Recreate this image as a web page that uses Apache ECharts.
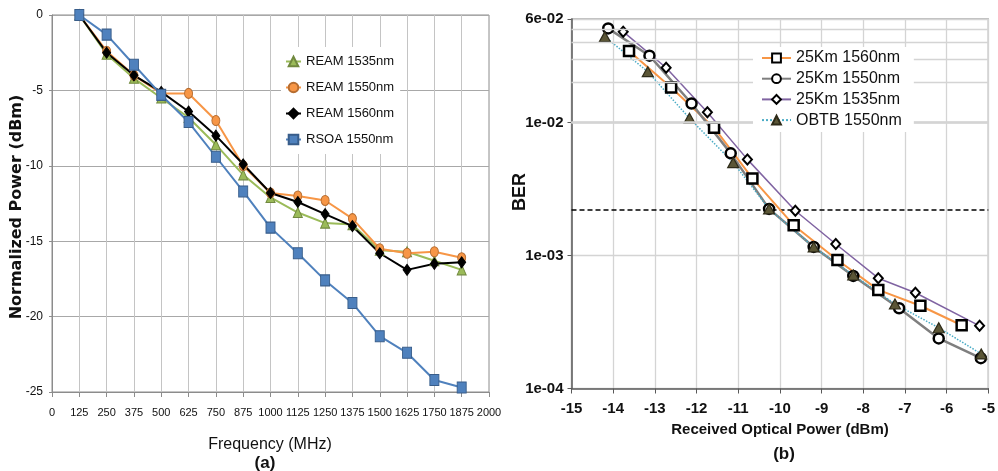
<!DOCTYPE html>
<html><head><meta charset="utf-8">
<script src="https://cdn.jsdelivr.net/npm/echarts@6/dist/echarts.min.js"></script>
<style>html,body{margin:0;padding:0;background:#fff}#c{width:998px;height:471px}</style>
</head><body><div id="c"></div>
<script>
// ---- Chart (a) data ----
const freqs = [125,250,375,500,625,750,875,1000,1125,1250,1375,1500,1625,1750,1875];
const ream1535 = [0,-2.6,-4.2,-5.5,-6.8,-8.6,-10.6,-12.1,-13.1,-13.8,-13.9,-15.6,-15.7,-16.3,-16.9];
const ream1550 = [0,-2.4,-4.0,-5.2,-5.2,-7.0,-10.0,-11.8,-12.0,-12.3,-13.5,-15.5,-15.8,-15.7,-16.1];
const ream1560 = [0,-2.5,-4.0,-5.1,-6.4,-8.0,-9.9,-11.8,-12.4,-13.2,-14.0,-15.8,-16.9,-16.5,-16.4];
const rsoa1550 = [0,-1.3,-3.3,-5.3,-7.1,-9.4,-11.7,-14.1,-15.8,-17.6,-19.1,-21.3,-22.4,-24.2,-24.7];
const namesA = ['REAM 1535nm','REAM 1550nm','REAM 1560nm','RSOA 1550nm'];

// ---- Chart (b) data ----
const sq1560X = [-13.62,-12.61,-11.58,-10.66,-9.67,-8.62,-7.64,-6.63,-5.64];
const sq1560Y = [0.0345,0.0183,0.00914,0.0038,0.00169,0.000925,0.000551,0.000419,0.000299];
const ci1550X = [-14.12,-13.13,-12.12,-11.18,-10.26,-9.19,-8.24,-7.14,-6.19,-5.18];
const ci1550Y = [0.0510,0.0318,0.0139,0.00586,0.00224,0.00116,0.000702,0.000401,0.000238,0.000169];
const di1535X = [-13.76,-12.73,-11.74,-10.78,-9.63,-8.66,-7.64,-6.75,-5.21];
const di1535Y = [0.0482,0.0258,0.01194,0.00528,0.00217,0.00122,0.000675,0.000525,0.000296];
const obtbX = [-14.20,-13.17,-12.17,-11.12,-10.26,-9.19,-8.24,-7.24,-6.19,-5.17];
const obtbY = [0.0442,0.0241,0.01076,0.00499,0.00224,0.00116,0.000713,0.000432,0.000286,0.000182];
const namesB = ['25Km 1560nm','25Km 1550nm','25Km 1535nm','OBTB 1550nm'];
const powerRange = [-15, -5];
const fecLimit = 0.0022;
const minorBER = [2e-4,3e-4,4e-4,5e-4,6e-4,7e-4,8e-4,9e-4,2e-3,3e-3,4e-3,5e-3,6e-3,7e-3,8e-3,9e-3,2e-2,3e-2,4e-2,5e-2];

const ARIAL = "'Liberation Sans',Arial,sans-serif";

const pairs = (xs, ys) => xs.map((x, i) => [x, ys[i]]);
const pairsA = ys => freqs.map((f, i) => [f, ys[i]]);
const fmtExp = v => Number(v).toExponential(0).replace(/e([+-])(\d)$/, 'e$10$2');

const chart = echarts.init(document.getElementById('c'));
chart.setOption({
  animation: false,
  backgroundColor: '#fff',
  grid: [
    {left: 52, top: 15, width: 437, height: 377, show: true, borderColor: '#8c8c8c', borderWidth: 1, backgroundColor: 'transparent'},
    {left: 571.5, top: 19, width: 419.2, height: 369.5, show: true, borderColor: '#7f7f7f', borderWidth: 1.2, backgroundColor: 'transparent'}
  ],
  xAxis: [
    {type: 'value', gridIndex: 0, min: 0, max: 2000, interval: 125,
     axisLine: {show: true, onZero: false, lineStyle: {color: '#8c8c8c', width: 1}},
     axisTick: {show: true, length: 5, lineStyle: {color: '#8c8c8c'}},
     axisLabel: {margin: 15, fontFamily: ARIAL, fontSize: 11, color: '#111', formatter: v => String(v)},
     splitLine: {show: true, lineStyle: {color: '#c4c4c4', width: 1}}},
    {type: 'value', gridIndex: 1, min: powerRange[0], max: powerRange[1], interval: 1,
     axisLine: {show: true, onZero: false, lineStyle: {color: '#595959', width: 1.5}},
     axisTick: {show: true, length: 5, lineStyle: {color: '#595959'}},
     axisLabel: {margin: 13, fontFamily: ARIAL, fontSize: 15, fontWeight: 'bold', color: '#111'},
     splitLine: {show: true, lineStyle: {color: '#d4d4d4', width: 1.3}}}
  ],
  yAxis: [
    {type: 'value', gridIndex: 0, min: -25, max: 0, interval: 5,
     axisLine: {show: true, onZero: false, lineStyle: {color: '#8c8c8c', width: 1}},
     axisTick: {show: true, length: 3, lineStyle: {color: '#8c8c8c'}},
     axisLabel: {margin: 9, fontFamily: ARIAL, fontSize: 12, color: '#111'},
     splitLine: {show: true, lineStyle: {color: '#a8a8a8', width: 1}}},
    {type: 'log', gridIndex: 1, logBase: 10, min: 1e-4, max: 0.06,
     axisLine: {show: true, onZero: false, lineStyle: {color: '#595959', width: 1.5}},
     axisTick: {show: true, length: 4, lineStyle: {color: '#595959'}},
     axisLabel: {margin: 8, fontFamily: ARIAL, fontSize: 15, fontWeight: 'bold', color: '#111',
                 showMaxLabel: true, showMinLabel: true, formatter: fmtExp},
     splitLine: {show: true, lineStyle: {color: '#d4d4d4', width: 1.3}}}
  ],
  legend: [
    {orient: 'vertical', left: 281, top: 47, padding: [8, 6, 8, 4], itemGap: 13, z: 20,
     itemWidth: 15, itemHeight: 12, backgroundColor: '#fff', data: namesA,
     textStyle: {fontFamily: ARIAL, fontSize: 13, color: '#111'}},
    {orient: 'vertical', left: 753, top: 47, padding: [3, 12, 4, 8], itemGap: 4.7, z: 20,
     itemWidth: 29, itemHeight: 11, backgroundColor: '#fff', data: namesB,
     textStyle: {fontFamily: ARIAL, fontSize: 16, color: '#111'}}
  ],
  series: [
    {name: namesA[0], type: 'line', xAxisIndex: 0, yAxisIndex: 0, data: pairsA(ream1535),
     symbol: 'triangle', symbolSize: [9, 10],
     lineStyle: {color: '#9bbb59', width: 2}, itemStyle: {color: '#9bbb59', borderColor: '#71893f', borderWidth: 1}},
    {name: namesA[1], type: 'line', xAxisIndex: 0, yAxisIndex: 0, data: pairsA(ream1550),
     symbol: 'circle', symbolSize: [8, 10],
     lineStyle: {color: '#f79646', width: 2}, itemStyle: {color: '#f79646', borderColor: '#b66d31', borderWidth: 1}},
    {name: namesA[2], type: 'line', xAxisIndex: 0, yAxisIndex: 0, data: pairsA(ream1560),
     symbol: 'diamond', symbolSize: [8, 11],
     lineStyle: {color: '#000', width: 2}, itemStyle: {color: '#000', borderColor: '#000', borderWidth: 1}},
    {name: namesA[3], type: 'line', xAxisIndex: 0, yAxisIndex: 0, data: pairsA(rsoa1550),
     symbol: 'rect', symbolSize: [9, 11],
     lineStyle: {color: '#4f81bd', width: 2}, itemStyle: {color: '#4f81bd', borderColor: '#385d8a', borderWidth: 1}},
    {type: 'line', xAxisIndex: 1, yAxisIndex: 1, data: [], silent: true, z: 1,
     markLine: {silent: true, symbol: 'none', label: {show: false}, animation: false,
       lineStyle: {color: '#d4d4d4', width: 1.3, type: 'solid'},
       data: minorBER.map(v => ({yAxis: v}))}},
    {type: 'line', xAxisIndex: 1, yAxisIndex: 1, silent: true, z: 2, symbol: 'none',
     data: powerRange.map(x => [x, fecLimit]),
     lineStyle: {color: '#000', width: 1.5, type: [5, 3]}, itemStyle: {color: '#000'}},
    {name: namesB[0], type: 'line', xAxisIndex: 1, yAxisIndex: 1, data: pairs(sq1560X, sq1560Y),
     symbol: 'rect', symbolSize: 10, z: 3,
     lineStyle: {color: '#f79646', width: 2}, itemStyle: {color: '#fff', borderColor: '#000', borderWidth: 2.5}},
    {name: namesB[1], type: 'line', xAxisIndex: 1, yAxisIndex: 1, data: pairs(ci1550X, ci1550Y),
     symbol: 'circle', symbolSize: 10, z: 3,
     lineStyle: {color: '#7f7f7f', width: 2.5}, itemStyle: {color: '#fff', borderColor: '#000', borderWidth: 2.5}},
    {name: namesB[2], type: 'line', xAxisIndex: 1, yAxisIndex: 1, data: pairs(di1535X, di1535Y),
     symbol: 'diamond', symbolSize: [9, 10], z: 3,
     lineStyle: {color: '#8064a2', width: 1.5}, itemStyle: {color: '#fff', borderColor: '#000', borderWidth: 2}},
    {name: namesB[3], type: 'line', xAxisIndex: 1, yAxisIndex: 1, data: pairs(obtbX, obtbY),
     symbol: 'triangle', symbolSize: [11, 10], z: 3,
     lineStyle: {color: '#4bacc6', width: 1.5, type: 'dotted'}, itemStyle: {color: '#5b5636', borderColor: '#2e2b18', borderWidth: 1.2}}
  ],
  graphic: [
    {type: 'text', x: 17, y: 207, rotation: Math.PI / 2,
     style: {text: 'Normalized Power (dBm)', fill: '#111', font: "bold 16px 'DejaVu Sans',sans-serif", align: 'center', verticalAlign: 'middle'}},
    {type: 'text', x: 270, y: 445,
     style: {text: 'Frequency (MHz)', fill: '#111', font: "16px " + ARIAL, align: 'center', verticalAlign: 'middle'}},
    {type: 'text', x: 265, y: 463,
     style: {text: '(a)', fill: '#111', font: "bold 17px " + ARIAL, align: 'center', verticalAlign: 'middle'}},
    {type: 'text', x: 520, y: 192, rotation: Math.PI / 2,
     style: {text: 'BER', fill: '#111', font: "bold 18px " + ARIAL, align: 'center', verticalAlign: 'middle'}},
    {type: 'text', x: 780, y: 430,
     style: {text: 'Received Optical Power (dBm)', fill: '#111', font: "bold 15px " + ARIAL, align: 'center', verticalAlign: 'middle'}},
    {type: 'text', x: 784, y: 454,
     style: {text: '(b)', fill: '#111', font: "bold 17px " + ARIAL, align: 'center', verticalAlign: 'middle'}}
  ]
});
</script>
</body></html>
